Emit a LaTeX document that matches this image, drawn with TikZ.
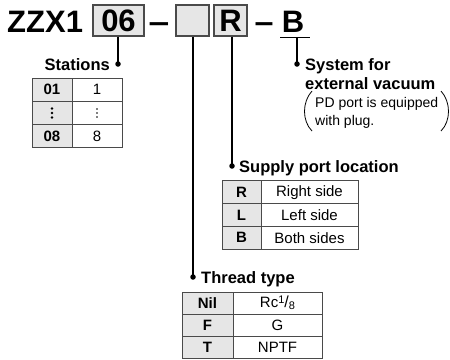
\documentclass[tikz,border=0pt]{standalone}
\usepackage{fontspec}
\setmainfont{Liberation Sans}
\definecolor{cellgray}{HTML}{E6E6E6}
\definecolor{edgegray}{HTML}{4A4A4A}
\newcommand{\mydots}[2]{\tikz[baseline=-0.5ex]{\foreach \yy in {-1,0,1} \fill (0,\yy*#1) circle[radius=#2];}}
\newcommand{\rcfrac}{Rc\raisebox{3.5pt}{\fontsize{11}{11}\selectfont 1}{\fontsize{16}{16}\selectfont /}\raisebox{-2.5pt}{\fontsize{11}{11}\selectfont 8}}
\begin{document}
\begin{tikzpicture}[x=1pt,y=-1pt,
  codebox/.style={draw=edgegray, line width=1.4pt, fill=cellgray, minimum height=31pt, inner sep=0pt, font=\bfseries\fontsize{31}{31}\selectfont},
  big/.style={font=\bfseries\fontsize{31}{31}\selectfont, inner sep=0pt},
  conn/.style={line width=1.5pt},
  dotnode/.style={circle, fill=black, inner sep=0pt, minimum size=5.5pt},
  lbl/.style={font=\bfseries\fontsize{16.5}{19}\selectfont, inner sep=0pt},
  note/.style={font=\fontsize{14}{17}\selectfont, inner sep=0pt, anchor=base west},
  keycell/.style={draw=edgegray, line width=1pt, fill=cellgray, inner sep=0pt, font=\bfseries\fontsize{15}{15}\selectfont},
  valcell/.style={draw=edgegray, line width=1pt, fill=white, inner sep=0pt, font=\fontsize{15}{15}\selectfont},
]
\useasboundingbox (0,0) rectangle (450,359);
% title
\node[big, anchor=base west] (title) at (7,32) {ZZX1};
\node[codebox, minimum width=51pt] (b06) at (118.5,20.5) {06};
\node[big, anchor=base, xscale=1.2] (d1) at (159,32) {–};
\node[codebox, minimum width=33pt] (bsp) at (192.5,20.5) {};
\node[codebox, minimum width=33pt] (bR) at (230.5,20.5) {R};
\node[big, anchor=base, xscale=1.1] (d2) at (264,32) {–};
\node[big, anchor=base] (bB) at (293,32) {B};
\coordinate (uL) at (280,37.5);
\coordinate (uR) at (310,37.5);
\draw[conn] (uL) -- (uR);

% connectors and dots
\node[dotnode] (p1) at (118,64) {};
\node[dotnode] (p2) at (193,277) {};
\node[dotnode] (p3) at (232,166) {};
\node[dotnode] (p4) at (297,64) {};
\draw[conn] (b06.south -| p1) -- (p1.center);
\draw[conn] (bsp.south -| p2) -- (p2.center);
\draw[conn] (bR.south -| p3) -- (p3.center);
\draw[conn] (uL -| p4) -- (p4.center);

% labels
\node[lbl, anchor=base east] (lst) at (110,70) {Stations};
\node[lbl, anchor=base west] (lth) at (201,283) {Thread type};
\node[lbl, anchor=base west] (lsu) at (239,172) {Supply port location};
\node[lbl, anchor=base west] (ls1) at (305,70) {System for};
\node[lbl, anchor=base west] (ls2) at (305,89) {external vacuum};
\node[note] (n1) at (315,107) {PD port is equipped};
\node[note] (n2) at (315,125) {with plug.};
\draw[line width=0.8pt] (312,91) .. controls (302,102) and (302,121) .. (312,131);
\draw[line width=0.8pt] (441,91) .. controls (451,102) and (451,121) .. (441,131);

% Stations table
\node[keycell, minimum width=40pt, minimum height=23.3pt] (s11) at (52,89.7) {01};
\node[valcell, minimum width=50pt, minimum height=23.3pt] (s12) at (97,89.7) {1};
\node[keycell, minimum width=40pt, minimum height=23.3pt] (s21) at (52,113) {\mydots{4.5pt}{1.3pt}};
\node[valcell, minimum width=50pt, minimum height=23.3pt] (s22) at (97,113) {\mydots{4pt}{0.9pt}};
\node[keycell, minimum width=40pt, minimum height=23.3pt] (s31) at (52,136.3) {08};
\node[valcell, minimum width=50pt, minimum height=23.3pt] (s32) at (97,136.3) {8};

% Supply table
\node[keycell, minimum width=39pt, minimum height=22.7pt] (u11) at (241.5,192.3) {R};
\node[valcell, minimum width=97pt, minimum height=22.7pt] (u12) at (309.5,192.3) {Right side};
\node[keycell, minimum width=39pt, minimum height=22.7pt] (u21) at (241.5,215) {L};
\node[valcell, minimum width=97pt, minimum height=22.7pt] (u22) at (309.5,215) {Left side};
\node[keycell, minimum width=39pt, minimum height=22.7pt] (u31) at (241.5,237.7) {B};
\node[valcell, minimum width=97pt, minimum height=22.7pt] (u32) at (309.5,237.7) {Both sides};

% Thread table
\node[keycell, minimum width=51pt, minimum height=22pt] (t11) at (207.5,303) {Nil};
\node[valcell, minimum width=89pt, minimum height=22pt] (t12) at (277.5,303) {\rcfrac};
\node[keycell, minimum width=51pt, minimum height=22pt] (t21) at (207.5,325) {F};
\node[valcell, minimum width=89pt, minimum height=22pt] (t22) at (277.5,325) {G};
\node[keycell, minimum width=51pt, minimum height=22pt] (t31) at (207.5,347) {T};
\node[valcell, minimum width=89pt, minimum height=22pt] (t32) at (277.5,347) {NPTF};
\end{tikzpicture}
\end{document}
